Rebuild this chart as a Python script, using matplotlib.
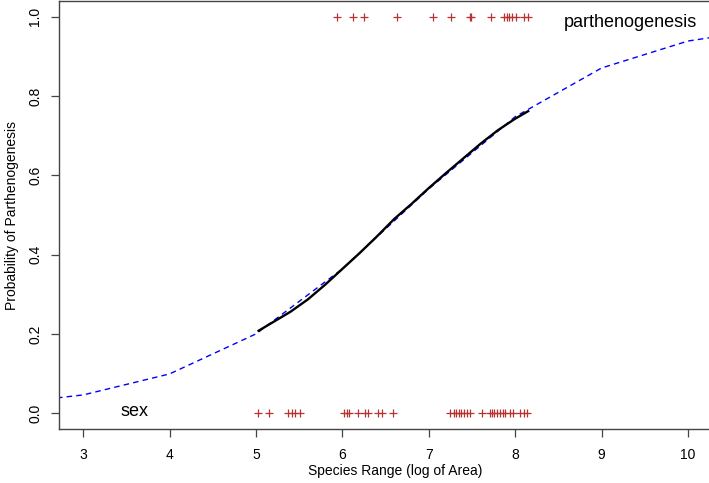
import matplotlib
matplotlib.use("Agg")
import matplotlib.pyplot as plt

plt.rcParams['font.family'] = ['Liberation Sans', 'DejaVu Sans']

# Observed species ranges (log of area)
parthenogenetic_x = [5.936, 6.125, 6.252, 6.631, 7.051, 7.259, 7.479, 7.490, 7.719,
                     7.873, 7.904, 7.934, 7.965, 8.004, 8.104, 8.154]
sexual_x = [5.029, 5.145, 5.376, 5.416, 5.454, 5.512, 6.024, 6.052, 6.082, 6.186,
            6.264, 6.295, 6.414, 6.457, 6.591, 7.248, 7.286, 7.317, 7.344, 7.372,
            7.402, 7.441, 7.479, 7.615, 7.703, 7.730, 7.760, 7.788, 7.826, 7.858,
            7.884, 7.942, 7.980, 8.058, 8.104, 8.135]

# Fitted curve over observed range (black)
fit_x = [5.03, 5.2, 5.4, 5.6, 5.8, 6.0, 6.2, 6.4, 6.6, 6.8, 7.0, 7.2, 7.4, 7.6, 7.8, 8.0, 8.15]
fit_y = [0.208, 0.230, 0.256, 0.287, 0.324, 0.364, 0.404, 0.446, 0.490, 0.528, 0.568,
         0.606, 0.643, 0.680, 0.714, 0.743, 0.762]

# Predicted curve at integer ranges (blue dashed)
pred_x = [2, 3, 4, 5, 6, 7, 8, 9, 10, 11]
pred_y = [0.021, 0.046, 0.099, 0.200, 0.364, 0.566, 0.748, 0.871, 0.939, 0.972]

xticks = [3, 4, 5, 6, 7, 8, 9, 10]
yticks = [0.0, 0.2, 0.4, 0.6, 0.8, 1.0]

W, H = 709, 483
fig = plt.figure(figsize=(W / 100, H / 100), dpi=100)
ax = fig.add_axes([59 / W, 54 / H, 672 / W, 428 / H])

ax.plot(pred_x, pred_y, color='blue', lw=1.0, ls=(0, (4, 3)), zorder=2)
ax.plot(fit_x, fit_y, color='black', lw=1.7, zorder=3)
ax.plot(parthenogenetic_x, [1.0] * len(parthenogenetic_x), ls='none', marker='+',
        ms=5.2, mew=0.9, color='#B83232', zorder=4)
ax.plot(sexual_x, [0.0] * len(sexual_x), ls='none', marker='+',
        ms=5.2, mew=0.9, color='#B83232', zorder=4)

ax.text(9.33, 0.987, 'parthenogenesis', ha='center', va='center', fontsize=13)
ax.text(3.59, 0.005, 'sex', ha='center', va='center', fontsize=13)

ax.set_xlim(2.72, 2.72 + 672 / 86.4)
ax.set_ylim(-0.04, 1.04)
ax.set_xticks(xticks)
ax.set_xticklabels([str(t) for t in xticks], fontsize=10)
ax.set_yticks(yticks)
ax.set_yticklabels([f"{t:.1f}" for t in yticks], fontsize=10, rotation=90, va='center')
ax.tick_params(direction='out', length=6, width=0.9, color='#444444', pad=8)
ax.tick_params(axis='y', pad=6)
for s in ax.spines.values():
    s.set_color('#444444')
    s.set_linewidth(1.0)

ax.set_xlabel('Species Range (log of Area)', fontsize=10, labelpad=1)
ax.set_ylabel('Probability of Parthenogenesis', fontsize=10, labelpad=7)

fig.savefig('out.png', dpi=100)
